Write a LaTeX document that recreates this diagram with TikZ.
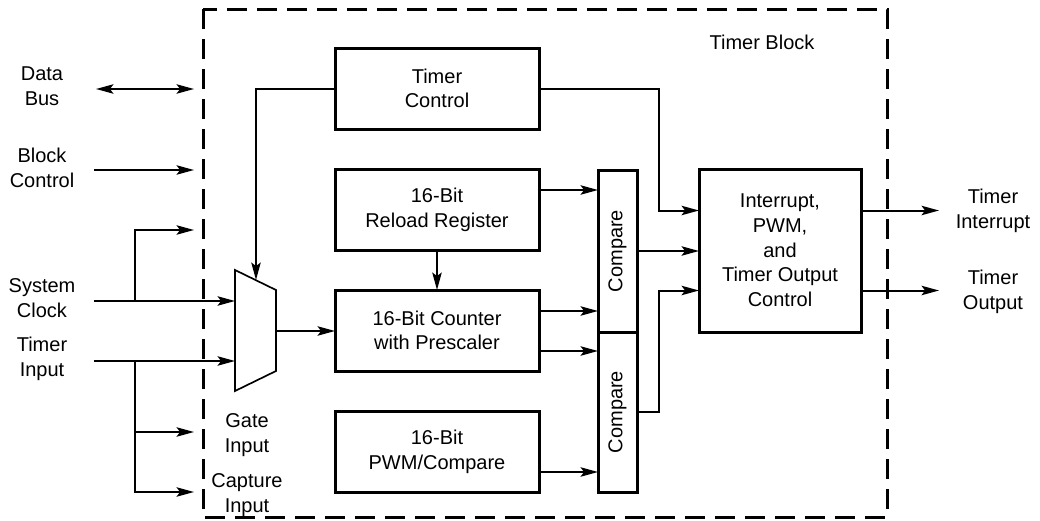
\documentclass[tikz,border=0pt]{standalone}
\usepackage{fontspec}
\setmainfont{Liberation Sans}
\usetikzlibrary{arrows.meta,calc,positioning}

\begin{document}
\begin{tikzpicture}[x=0.75pt,y=-0.75pt,>={Stealth[length=13pt,width=7pt,inset=2.5pt]},
		font=\fontsize{15}{18.5}\selectfont,align=center,
		block/.style={draw,line width=2.25pt,minimum width=153pt,minimum height=60.75pt,inner sep=0pt,outer sep=0pt},
		cmpbox/.style={draw,line width=2.25pt,minimum width=29.25pt,inner sep=0pt,outer sep=0pt},
		sig/.style={->,line width=1.5pt},
		frame/.style={line width=2.25pt,dash pattern=on 15pt off 7.5pt},
		lbl/.style={inner sep=0pt}]
		\useasboundingbox (0,0) rectangle (1040,521);
		% timer block frame
		\draw[frame] (203,9) rectangle (887,517);
		\node[lbl] (tblk) at (762,42) {Timer Block};
		% blocks
		\node[block] (tctrl) at (437,88.5) {Timer\\Control};
		\node[block] (reload) at (437,209.5) {16-Bit\\Reload Register};
		\node[block] (counter) at (437,330.5) {16-Bit Counter\\with Prescaler};
		\node[block] (pwm) at (437,451.5) {16-Bit\\PWM/Compare};
		\node[cmpbox,minimum height=121.5pt] (cmpA) at (617.5,251) {\rotatebox{90}{Compare}};
		\node[cmpbox,minimum height=120pt] (cmpB) at (617.5,412) {\rotatebox{90}{Compare}};
		\node[block,minimum width=121.5pt,minimum height=122.25pt] (intr) at (780,250.5) {Interrupt,\\PWM,\\and\\Timer Output\\Control};
		% gate mux
		\draw[line width=1.25pt] (235,270) -- (276,290) -- (276,371) -- (235,391) -- cycle;
		\coordinate (muxtop) at (256,280);
		\coordinate (muxA) at (235,301);
		\coordinate (muxB) at (235,361);
		\coordinate (muxout) at (276,331);
		% outside labels
		\node[lbl] (dbus) at (42,86) {Data\\Bus};
		\node[lbl] (bctl) at (42,168) {Block\\Control};
		\node[lbl] (sclk) at (42,298) {System\\Clock};
		\node[lbl] (tin) at (42,359) {Timer\\Input};
		\node[lbl] (gate) at (247,435) {Gate\\Input};
		\node[lbl] (capt) at (247,495) {Capture\\Input};
		\node[lbl] (tint) at (993,211) {Timer\\Interrupt};
		\node[lbl] (tout) at (993,292) {Timer\\Output};
		% free ends
		\coordinate (dbL) at (96,89);
		\coordinate (dbR) at (194,89);
		\coordinate (bcL) at (94,170);
		\coordinate (bcR) at (194,170);
		\coordinate (scL) at (94,301);
		\coordinate (tiL) at (94,361);
		\coordinate (brA) at (135,301);
		\coordinate (brB) at (135,361);
		\coordinate (scR) at (194,230);
		\coordinate (gtR) at (194,432);
		\coordinate (cpR) at (194,492);
		\coordinate (tintE) at (939,210.5);
		\coordinate (toutE) at (939,290.5);
		% inputs
		\draw[<->,line width=1.5pt] (dbL) -- (dbR);
		\draw[sig] (bcL) -- (bcR);
		\draw[sig] (scL) -- (muxA);
		\draw[sig] (tiL) -- (muxB);
		\draw[sig] (brA) |- (scR);
		\draw[sig] (brB) |- (cpR);
		\draw[sig] (brB |- gtR) -- (gtR);
		% internal paths
		\draw[sig] (tctrl.west) -| (muxtop);
		\draw[sig] (muxout) -- (counter.west |- muxout);
		\draw[sig] (reload) -- (counter);
		\draw[sig] ($(reload.east)+(0,-19.5)$) coordinate (rA) -- (rA -| cmpA.west);
		\draw[sig] ($(counter.east)+(0,-19.5)$) coordinate (cA) -- (cA -| cmpA.west);
		\draw[sig] ($(counter.east)+(0,20.5)$) coordinate (cB) -- (cB -| cmpB.west);
		\draw[sig] ($(pwm.east)+(0,20.5)$) coordinate (pB) -- (pB -| cmpB.west);
		\draw[sig] (cmpA.east) -- (cmpA.east -| intr.west);
		\draw[sig] (cmpB.east) -- ++(22,0) |- ($(intr.west)+(0,40)$);
		\draw[sig] (tctrl.east) -- ++(120,0) |- ($(intr.west)+(0,-40)$);
		% outputs
		\draw[sig] (intr.east |- tintE) -- (tintE);
		\draw[sig] (intr.east |- toutE) -- (toutE);
	\end{tikzpicture}
\end{document}
